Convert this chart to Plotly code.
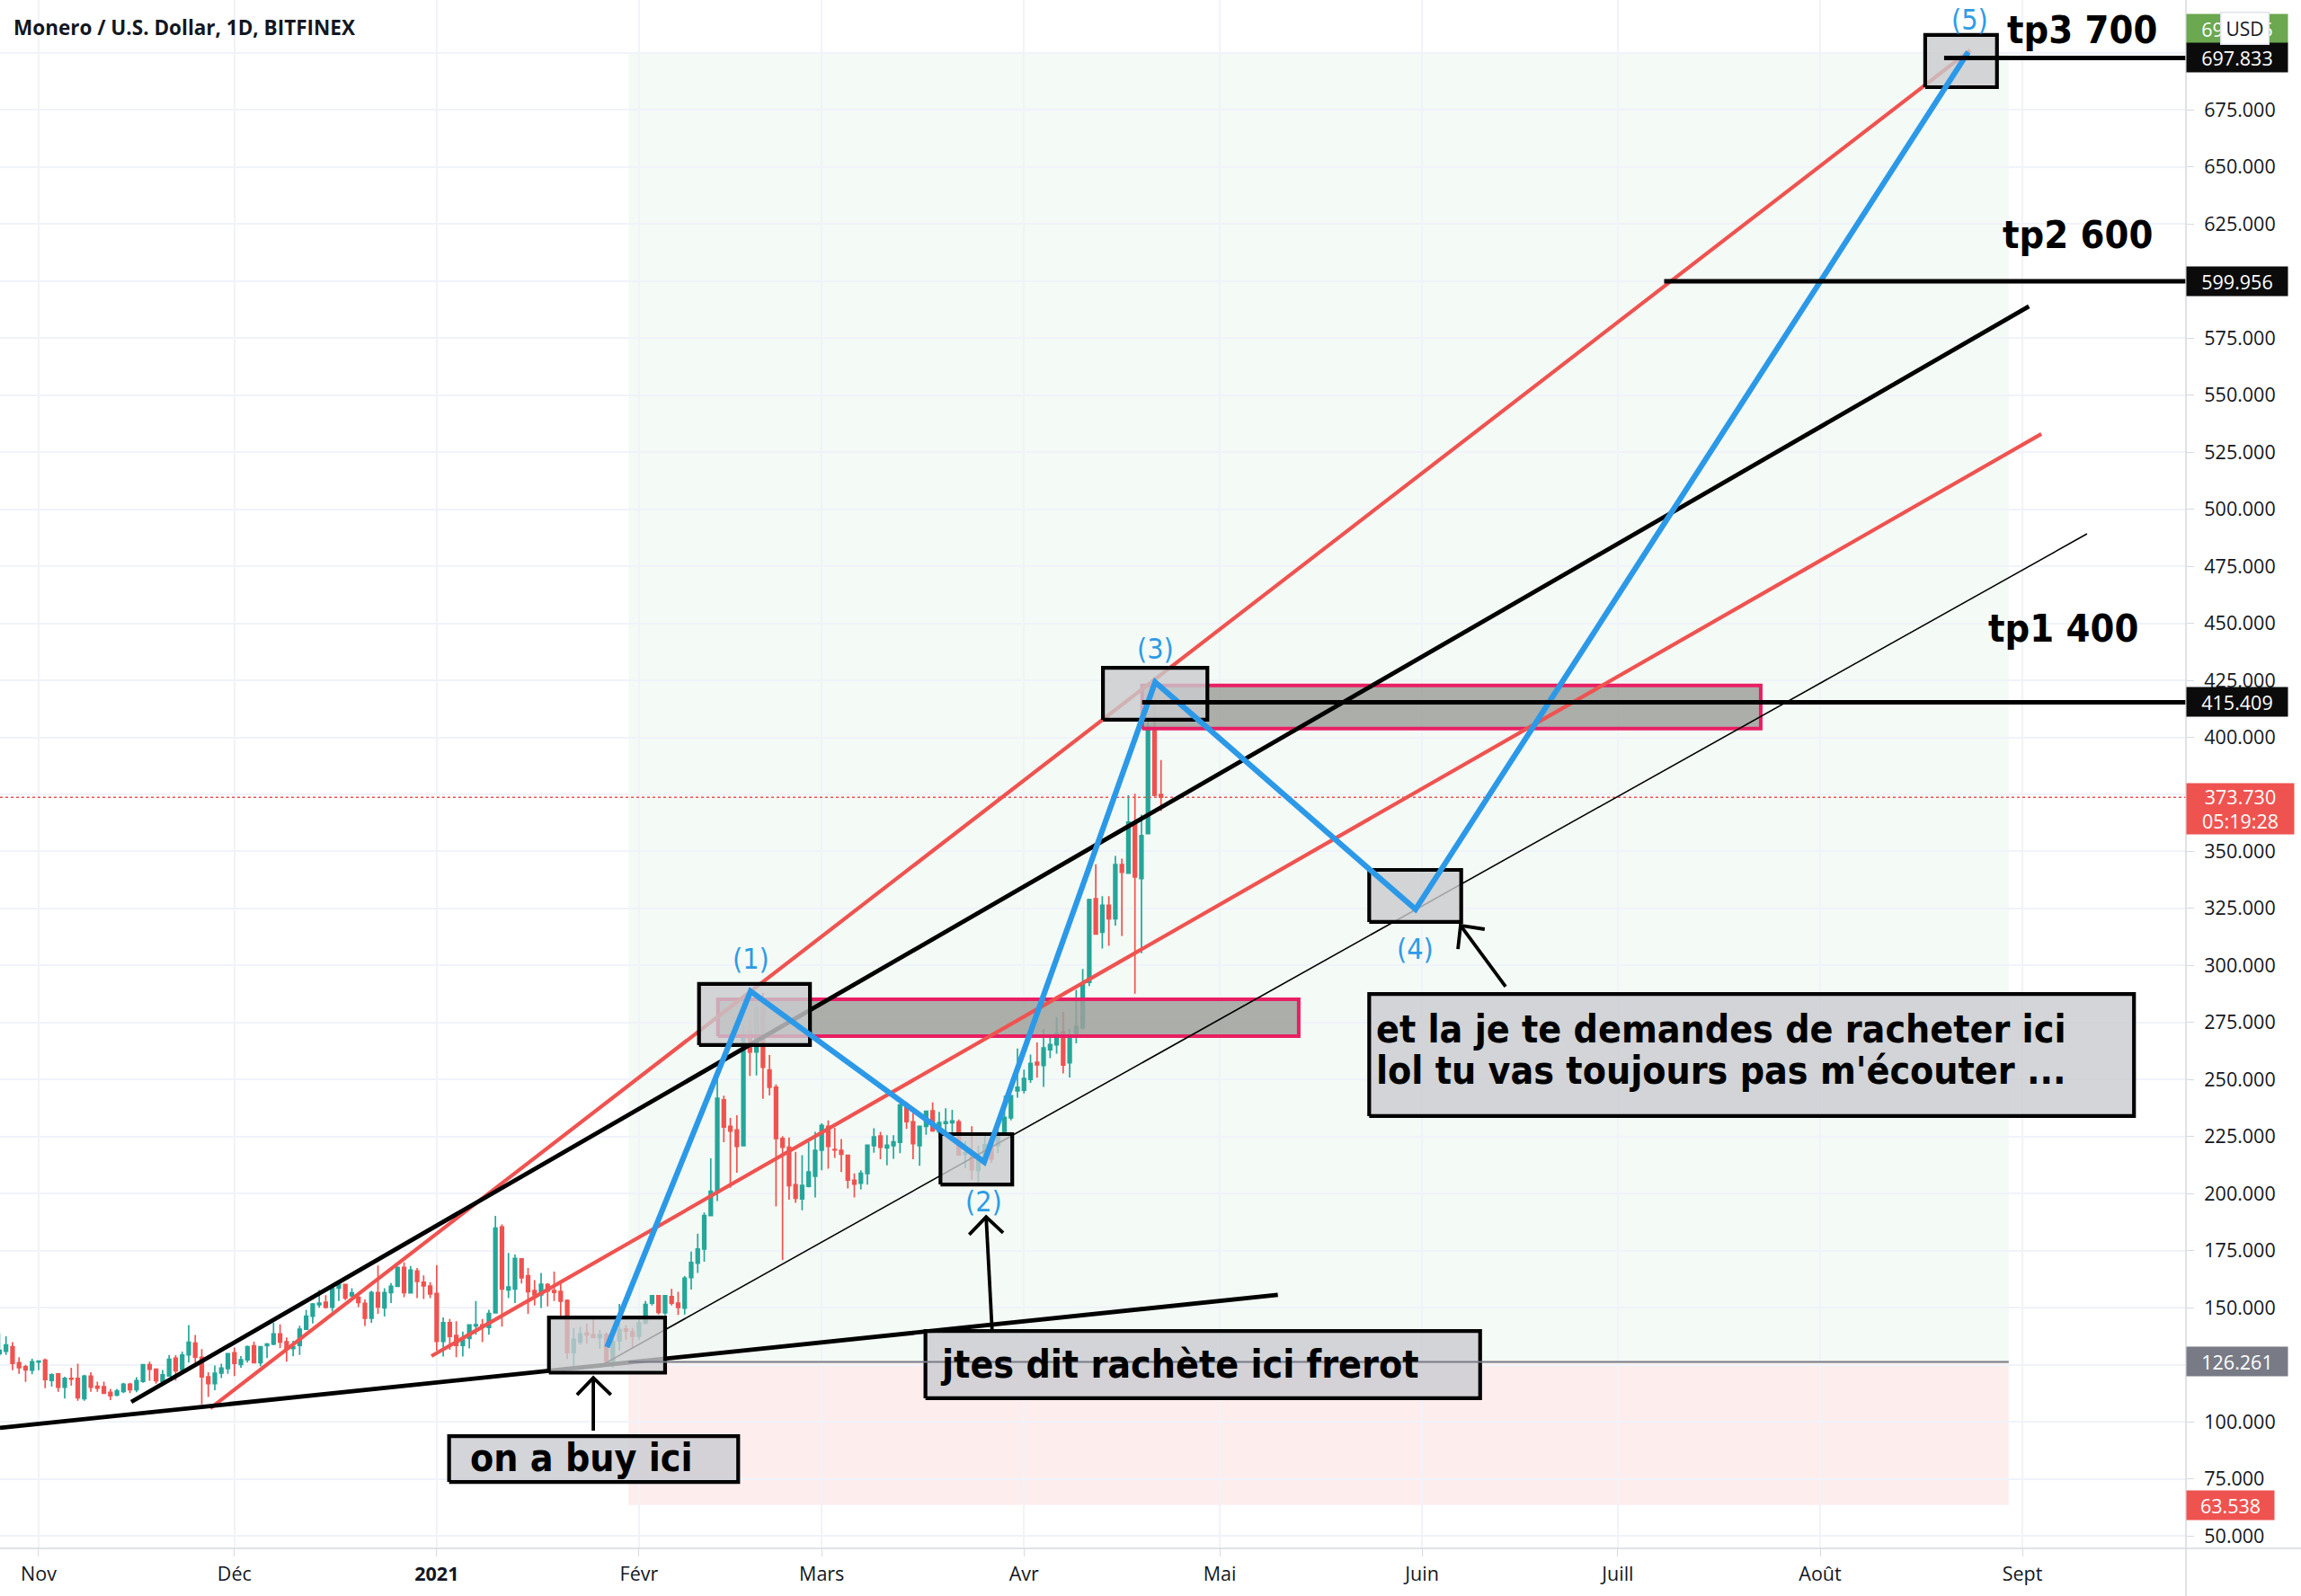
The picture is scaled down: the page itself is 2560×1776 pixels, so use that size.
from datetime import datetime, timedelta
import plotly.graph_objects as go

BASE = datetime(2020, 11, 1)
FIRST_DAY = -6
X_MIN, X_MAX = -5.92, 329.06
Y_MIN, Y_MAX = 44.5, 723.2

opens = [129.8,130.9,132.9,125.9,124.1,122.6,126.2,127.0,118.1,121.0,115.1,119.0,119.0,110.1,120.0,115.6,115.4,112.9,111.7,113.3,
116.4,114.1,117.7,125.0,123.0,117.7,120.1,127.9,122.7,129.3,134.5,128.3,119.7,116.7,121.4,123.3,130.2,125.1,127.2,133.3,
125.9,133.4,134.1,138.5,135.1,132.1,133.5,140.6,146.3,151.3,152.4,150.2,158.6,160.2,155.2,154.6,151.9,145.4,156.6,149.9,
156.6,159.4,167.7,156.5,166.1,161.2,159.5,156.2,135.2,143.4,137.8,133.5,136.5,142.0,142.4,141.3,147.7,185.4,157.8,158.2,
171.4,164.0,157.5,155.6,160.2,157.5,157.1,153.2,130.3,134.9,138.9,138.1,136.9,138.2,126.6,135.4,140.7,139.4,137.5,143.3,
152.0,155.2,147.7,154.9,152.0,149.8,163.2,169.5,175.7,190.4,200.6,241.1,229.5,227.9,221.0,271.3,262.1,281.8,254.2,246.6,
224.2,220.3,203.9,197.7,203.2,207.6,219.0,229.5,219.4,219.0,216.8,205.9,204.6,208.8,221.0,225.3,220.0,221.0,222.5,238.0,
231.5,221.0,229.5,236.3,227.1,230.8,231.1,231.5,217.3,216.1,210.2,214.0,221.0,221.0,225.6,233.2,245.0,245.3,250.1,257.6,
256.2,263.1,265.2,270.9,257.3,270.0,272.6,292.6,329.3,314.6,326.4,320.5,344.2,340.5,362.2,338.1,357.8,402.9,374.9]

highs = [138.8,137.5,134.9,128.3,125.0,127.6,126.7,127.7,121.2,121.4,119.7,123.7,125.4,120.6,121.7,117.6,117.6,114.4,114.4,117.1,
117.1,119.5,125.2,126.3,123.3,122.7,129.3,129.2,130.8,142.4,138.1,131.8,121.7,124.7,125.4,130.1,132.5,128.8,133.4,135.1,
133.1,134.5,143.4,142.7,137.0,135.5,142.1,149.1,152.0,157.7,155.5,158.8,160.8,160.4,158.5,156.2,153.6,157.5,168.5,158.5,
160.8,168.1,169.9,168.3,167.4,164.1,161.2,168.7,145.7,145.0,144.1,139.5,142.8,152.9,145.0,149.1,190.2,186.5,174.0,173.3,
171.6,167.4,162.1,165.2,160.8,165.8,160.8,153.6,141.1,141.5,143.1,145.0,140.2,139.1,141.1,151.6,142.4,141.1,145.0,152.9,
155.6,155.6,155.6,158.2,157.0,163.9,174.6,182.5,191.7,215.5,250.5,242.9,233.2,234.4,273.1,276.1,283.3,287.9,260.8,247.9,
225.2,224.6,218.3,216.8,222.5,227.1,230.8,232.1,228.8,223.9,217.0,208.9,210.2,221.2,228.7,227.1,225.6,225.6,239.4,240.3,
235.4,229.8,236.3,240.0,235.8,237.4,236.7,232.5,222.9,229.5,221.0,225.6,221.6,232.5,242.9,243.3,263.6,254.4,261.0,266.3,
272.2,268.9,277.4,279.7,272.2,289.3,298.5,329.3,344.4,330.4,330.4,348.0,346.8,374.6,375.3,366.1,413.0,424.5,390.1]

lows = [128.9,129.3,122.6,121.0,117.5,120.8,122.6,114.7,115.4,113.1,110.2,115.8,109.2,109.2,113.1,113.1,112.2,109.5,111.2,112.5,
112.5,112.9,117.1,118.0,116.7,117.5,119.7,118.1,122.3,125.9,125.9,107.6,110.9,113.8,119.1,121.0,120.0,123.7,125.9,125.6,
124.3,127.9,133.5,132.2,126.3,128.7,129.3,140.4,143.1,150.0,149.6,148.3,152.9,153.3,154.2,150.3,142.0,143.4,147.3,146.1,
152.0,159.1,154.6,156.2,154.2,153.8,154.2,131.2,128.6,131.6,128.3,128.6,132.1,138.2,134.9,138.2,147.4,141.7,154.2,152.0,
160.6,147.3,151.0,149.9,150.6,152.9,145.7,127.5,122.7,133.8,134.2,136.7,131.9,125.9,123.7,131.2,135.8,132.3,135.8,142.7,
151.0,147.0,146.7,151.0,146.8,147.0,157.9,165.2,170.2,190.1,196.7,222.5,202.6,209.2,220.7,251.6,251.8,241.6,243.0,194.4,
170.8,197.3,196.0,192.7,202.8,198.3,210.2,210.9,215.7,209.4,202.3,198.3,201.9,203.9,217.9,215.1,212.4,215.3,217.7,228.4,
215.1,212.2,225.8,227.1,224.3,226.9,226.6,216.6,211.1,206.1,204.6,213.7,213.5,217.7,225.3,232.1,242.0,243.9,248.5,250.8,
246.8,259.4,261.3,252.7,250.9,265.9,272.0,291.0,313.8,307.4,308.6,317.5,312.9,340.1,287.6,305.4,357.8,374.0,367.7]

closes = [131.3,133.7,125.6,123.7,122.7,126.3,126.6,118.5,120.6,115.1,119.0,118.7,110.5,120.0,115.1,114.8,112.5,111.4,113.5,116.4,
114.1,118.0,125.0,123.0,118.0,120.6,127.4,122.3,129.2,134.9,128.3,119.7,116.7,121.3,123.5,129.8,125.6,127.2,132.9,125.9,
132.9,134.1,138.5,134.9,132.0,132.9,140.6,146.3,151.6,152.0,150.2,158.5,160.2,154.2,156.5,152.3,145.4,156.6,150.3,156.6,
159.4,167.7,156.6,166.5,161.5,159.6,156.0,135.2,143.4,137.4,133.5,135.8,142.4,142.5,142.0,147.5,184.9,158.2,159.1,171.6,
163.1,157.0,155.6,160.3,157.3,156.7,152.9,130.3,136.1,138.5,138.1,136.9,138.1,126.3,135.2,140.4,139.8,137.5,143.3,151.4,
155.2,147.9,155.2,152.0,150.1,162.9,169.8,175.7,190.4,201.0,241.8,229.2,227.4,220.7,268.2,262.1,281.4,255.4,246.6,224.2,
220.3,203.5,198.0,203.6,209.5,219.0,229.9,220.7,219.1,217.3,205.9,204.2,208.9,221.2,224.9,220.3,221.2,222.7,238.9,231.5,
221.9,229.5,236.1,227.5,231.2,231.5,231.9,217.0,217.9,210.5,214.4,221.4,215.1,225.6,233.4,242.9,246.6,250.5,257.1,256.5,
263.9,265.3,270.2,256.4,268.2,273.3,291.5,328.9,313.8,326.4,320.5,344.2,340.9,362.8,338.8,356.9,404.8,374.6,373.73]
assert len(opens) == len(highs) == len(lows) == len(closes), (len(opens), len(highs), len(lows), len(closes))

month_days = [0, 30, 61, 92, 120, 151, 181, 212, 242, 273, 304]
month_labels = ["Nov", "Déc", "<b>2021</b>", "Févr", "Mars", "Avr", "Mai", "Juin", "Juill", "Août", "Sept"]
price_ticks = list(range(50, 725, 25))
hidden_ticks = [125, 375, 600, 700]

support_days, support_prices = [-5.92, 189.9], [97.3, 155.6]
channel_days, channel_prices = [14.2, 305.0], [108.7, 588.9]
red_upper_days, red_upper_prices = [26.3, 296.0], [105.9, 701.2]
red_lower_days, red_lower_prices = [60.2, 306.9], [128.8, 533.0]
thin_days, thin_prices = [86.8, 313.9], [125.6, 489.2]
wave_days = [87.1, 109.1, 144.9, 171.1, 211.0, 295.7]
wave_prices = [132.7, 288.7, 213.9, 424.2, 324.6, 700.4]
tp_starts = [292.0, 249.1, 169.1]
tp_levels = [697.833, 599.956, 415.409]
current_price = 373.73
entry_price, stop_price, target_price = 126.261, 63.538, 700.0
zone_days = [90.4, 301.9]

zone_boxes = [(78.2, 96.0, 121.5, 145.7), (101.2, 118.2, 265.1, 291.9), (138.2, 149.2, 204.0, 226.1),
              (163.1, 179.1, 407.7, 430.5), (203.9, 218.0, 319.1, 341.9), (289.1, 300.1, 685.0, 707.9)]
pink_boxes = [(104.1, 193.1, 269.0, 285.2), (169.1, 263.9, 403.8, 422.7)]
note_boxes = [(62.9, 107.2, 73.6, 93.7), (135.9, 220.9, 110.3, 139.8), (203.9, 321.1, 234.0, 287.5)]

arrows = [
    ([85.0, 85.0], [96.1, 119.3], [82.5, 85.0, 87.7], [111.8, 119.3, 111.8]),
    ([146.1, 145.2], [140.6, 189.8], [142.6, 145.2, 147.8], [182.0, 189.8, 182.8]),
    ([224.8, 217.9], [290.7, 317.5], [221.6, 217.9, 217.5], [315.9, 317.5, 307.2]),
]
wave_labels = ["(1)", "(2)", "(3)", "(4)", "(5)"]
wave_label_days = [109.1, 144.9, 171.1, 211.0, 296.0]
wave_label_prices = [302.9, 196.5, 438.8, 307.2, 714.6]
notes = ["on a buy ici", "jtes dit rachète ici frerot", "et la je te demandes de racheter ici", "lol tu vas toujours pas m'écouter ..."]
note_days = [65.9, 137.9, 204.7, 204.7]
note_prices = [83.9, 125.2, 271.8, 253.7]
tp_texts = ["tp3 700", "tp2 600", "tp1 400"]
tp_text_days = [313.2, 312.4, 310.3]
tp_text_prices = [710.2, 620.4, 447.9]

GREEN, RED, BLUE, TEXT = "#26A69A", "#EF5350", "#2B99E8", "#131722"
FONT = "DejaVu Sans Condensed"
AXISFONT = "Open Sans"


def day(n):
    return (BASE + timedelta(days=n)).isoformat()


def days(seq):
    return [day(n) for n in seq]


def line(xs, ys, color, width, **kw):
    return go.Scatter(x=days(xs), y=ys, mode="lines", line=dict(color=color, width=width),
                      hoverinfo="skip", showlegend=False, **kw)


def box(b, edge, fill, width=4.2):
    x0, x1, y0, y1 = b
    return line([x0, x1, x1, x0, x0], [y0, y0, y1, y1, y0], edge, width, fill="toself", fillcolor=fill)


fig = go.Figure()
candle_days = [FIRST_DAY + i for i in range(len(opens))]
fig.add_trace(go.Candlestick(
    x=days(candle_days), open=opens, high=highs, low=lows, close=closes, whiskerwidth=0,
    increasing=dict(line=dict(color=GREEN, width=1.7), fillcolor=GREEN),
    decreasing=dict(line=dict(color=RED, width=1.7), fillcolor=RED),
    showlegend=False, hoverinfo="skip"))
fig.add_trace(line([X_MIN, X_MAX], [current_price] * 2, RED, 1.5))
fig.data[-1].line.dash = "dot"
for b in pink_boxes:
    fig.add_trace(box(b, "#E91E63", "rgba(157,160,155,0.85)", 4))
fig.add_trace(line(red_upper_days, red_upper_prices, RED, 4.2))
fig.add_trace(line(red_lower_days, red_lower_prices, RED, 4.2))
fig.add_trace(line(channel_days, channel_prices, "#000000", 4.8))
fig.add_trace(line(support_days, support_prices, "#000000", 4.8))
fig.add_trace(line(thin_days, thin_prices, "#000000", 1.6))
for b in zone_boxes:
    fig.add_trace(box(b, "#000000", "rgba(201,203,205,0.8)"))
fig.add_trace(line(wave_days, wave_prices, BLUE, 6.2))
for start, level in zip(tp_starts, tp_levels):
    fig.add_trace(line([start, X_MAX], [level, level], "#000000", 5))
for tail_x, tail_y, head_x, head_y in arrows:
    fig.add_trace(line(tail_x, tail_y, "#000000", 3.8))
    fig.add_trace(line(head_x, head_y, "#000000", 3.8))
for b in note_boxes:
    fig.add_trace(box(b, "#000000", "rgba(201,203,207,0.8)"))
fig.add_trace(line(zone_days, [entry_price] * 2, "#787B86", 2))

shapes = [
    dict(type="rect", layer="below", xref="x", yref="y", x0=day(zone_days[0]), x1=day(zone_days[1]),
         y0=entry_price, y1=target_price, fillcolor="rgba(76,175,80,0.06)", line_width=0),
    dict(type="rect", layer="below", xref="x", yref="y", x0=day(zone_days[0]), x1=day(zone_days[1]),
         y0=stop_price, y1=entry_price, fillcolor="rgba(239,83,80,0.10)", line_width=0),
    dict(type="line", xref="paper", yref="paper", x0=1, x1=1, y0=-0.0308, y1=1, line=dict(color="#D6D9DF", width=1.5)),
    dict(type="line", xref="paper", yref="paper", x0=0, x1=1.0527, y0=0, y1=0, line=dict(color="#D6D9DF", width=1.5)),
]

annotations = []
for t, d, p in zip(wave_labels, wave_label_days, wave_label_prices):
    annotations.append(dict(x=day(d), y=p, text=t, showarrow=False, font=dict(family=FONT, size=32, color="#2E9BE6")))
for t, d, p in zip(notes, note_days, note_prices):
    annotations.append(dict(x=day(d), y=p, text=f"<b>{t}</b>", showarrow=False, xanchor="left",
                            font=dict(family=FONT, size=42.5, color="#000000")))
for t, d, p in zip(tp_texts, tp_text_days, tp_text_prices):
    annotations.append(dict(x=day(d), y=p, text=f"<b>{t}</b>", showarrow=False, font=dict(family=FONT, size=43, color="#000000")))

price_labels = [
    ("699.765", 699.9, 112, 32, "#6BA84F", 27),
    ("697.833", 697.833, 112, 32, "#0B0B0B", 0),
    ("599.956", 599.956, 112, 32, "#0B0B0B", 0),
    ("415.409", 415.409, 112, 32, "#0B0B0B", 0),
    ("373.730<br>05:19:28", 373.73, 119, 56, RED, -13),
    ("126.261", 126.261, 112, 32, "#787B86", 0),
    ("63.538", 63.538, 97, 32, RED, 0),
]
for text, price, w, h, color, shift in price_labels:
    annotations.append(dict(xref="paper", x=1, y=price, yref="y", xanchor="left", yshift=shift, text=text, showarrow=False,
                            width=w, height=h, bgcolor=color, align="center", borderpad=0,
                            font=dict(family=AXISFONT, size=21.5, color="#FFFFFF")))
annotations.append(dict(xref="paper", yref="paper", x=1, y=1, xshift=38, yshift=-13, xanchor="left", yanchor="top", text="USD",
                        showarrow=False, width=50, height=32, bgcolor="#FFFFFF", bordercolor="#E0E3EB", borderwidth=1.5,
                        font=dict(family=AXISFONT, size=21, color=TEXT)))
annotations.append(dict(xref="paper", yref="paper", x=0, y=1, xshift=13, yshift=-13, xanchor="left", yanchor="top",
                        text="<b>Monero / U.S. Dollar, 1D, BITFINEX</b>", showarrow=False,
                        font=dict(family=AXISFONT, size=22.5, color=TEXT)))

fig.update_layout(
    width=2560, height=1776, margin=dict(l=0, r=128, t=0, b=53), paper_bgcolor="#FFFFFF", plot_bgcolor="#FFFFFF",
    showlegend=False, hovermode=False, shapes=shapes, annotations=annotations, dragmode=False,
    xaxis=dict(type="date", range=[day(X_MIN), day(X_MAX)], tickmode="array", tickvals=days(month_days), ticktext=month_labels,
               showgrid=True, gridcolor="#F0F3FA", gridwidth=1.5, zeroline=False, ticks="outside", ticklen=8, tickcolor="#D6D9DF",
               tickfont=dict(family=AXISFONT, size=21.5, color=TEXT), rangeslider=dict(visible=False), ticklabelstandoff=1,
               showline=False),
    yaxis=dict(side="right", range=[Y_MIN, Y_MAX], tickmode="array", tickvals=price_ticks,
               ticktext=["" if p in hidden_ticks else f"{p}.000" for p in price_ticks], showgrid=True, gridcolor="#F0F3FA",
               gridwidth=1.5, zeroline=False, ticks="outside", ticklen=8, tickcolor="#D6D9DF",
               tickfont=dict(family=AXISFONT, size=21.5, color=TEXT), ticklabelstandoff=7, showline=False),
)
fig.write_html("out.html", config=dict(displayModeBar=False, responsive=False),
               post_script="document.body.style.margin='0';")
